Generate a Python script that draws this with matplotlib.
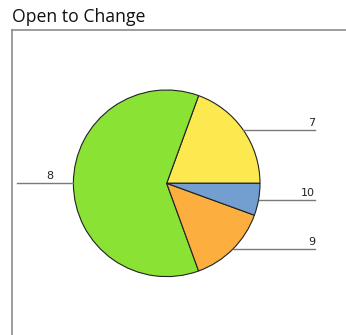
import numpy as np
import matplotlib
matplotlib.use("Agg")
import matplotlib.pyplot as plt
from matplotlib.lines import Line2D

# Data
title = "Open to Change"
categories = ["7", "8", "9", "10"]
counts = [7, 22, 5, 2]
colors = ["#fce94f", "#8ae234", "#fcaf3e", "#729fcf"]

W, H = 346, 335
fig = plt.figure(figsize=(W / 100, H / 100), dpi=100)
fig.patch.set_facecolor("white")

# frame lines (top and left), in pixel units
fig.add_artist(Line2D([12 / W, 1], [1 - 30 / H, 1 - 30 / H], color="#8c8c8c", lw=1.2))
fig.add_artist(Line2D([12 / W, 12 / W], [0, 1 - 30 / H], color="#8c8c8c", lw=1.2))

fig.text(12 / W, 1 - 17 / H, title, fontsize=12.7, family="Open Sans",
         va="center", ha="left", color="#111111")

ax = fig.add_axes([0, 0, 1, 1])

cx, cy, r = 166.7, H - 183.3, 93.3
wedges, _ = ax.pie(counts, colors=colors, startangle=0, counterclock=True,
                   center=(cx, cy), radius=r, frame=True,
                   wedgeprops=dict(edgecolor="#222222", linewidth=0.8))
ax.set_xlim(0, W)
ax.set_ylim(0, H)
ax.set_aspect("equal")
ax.axis("off")

# leader lines + labels
for w, lab in zip(wedges, categories):
    mid = np.deg2rad((w.theta1 + w.theta2) / 2)
    dy = r * np.sin(mid)
    edge = np.sqrt(max(r**2 - dy**2, 0))
    if np.cos(mid) >= 0:
        x0, x1 = cx + edge, cx + 1.59 * r
        ax.plot([x0, x1], [cy + dy, cy + dy], color="#7a7a7a", lw=1.0)
        ax.text(x1, cy + dy + 2, lab, ha="right", va="bottom", fontsize=8,
                color="#222222")
    else:
        x0, x1 = cx - edge, cx - 1.6 * r
        ax.plot([x1, x0], [cy + dy, cy + dy], color="#7a7a7a", lw=1.0)
        ax.text(cx - 1.255 * r, cy + dy + 2, lab, ha="center", va="bottom",
                fontsize=8, color="#222222")

fig.savefig("out.png", dpi=100)
